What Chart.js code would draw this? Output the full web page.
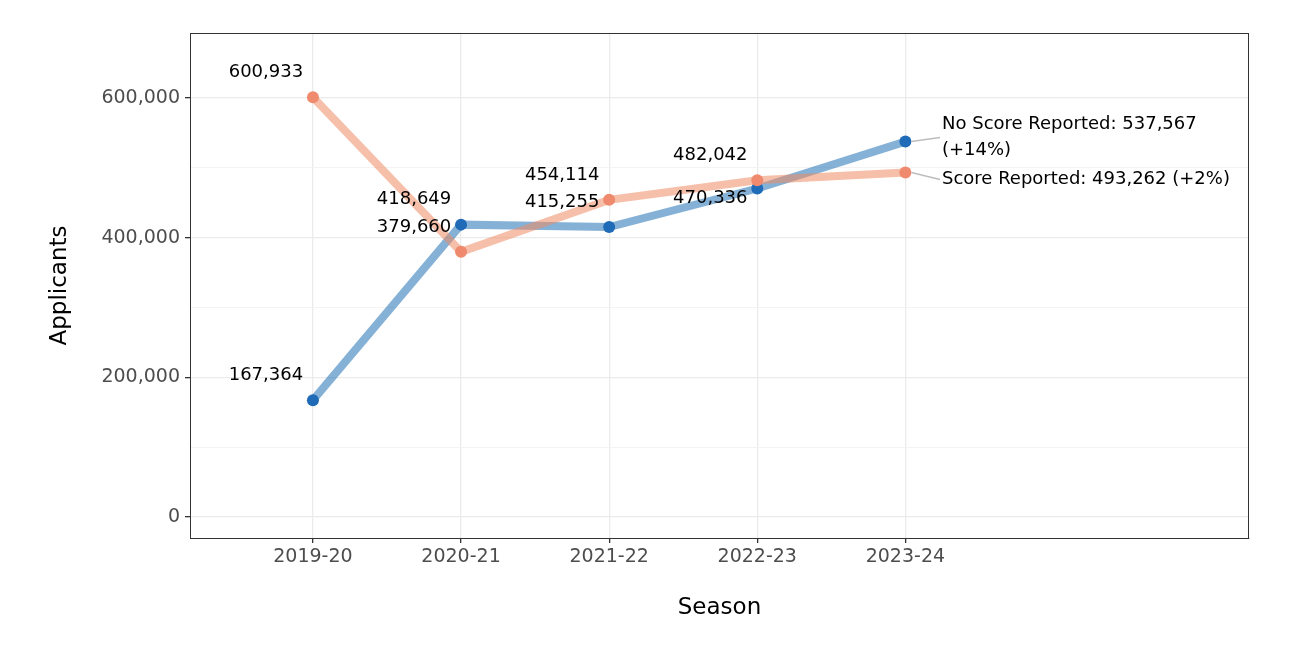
<!DOCTYPE html>
<html>
<head>
<meta charset="utf-8">
<script src="https://cdn.jsdelivr.net/npm/chart.js@4"></script>
<style>
  body { margin: 0; background: #fff; }
  canvas { display: block; }
</style>
</head>
<body>
<canvas id="grafico" width="1298" height="646"></canvas>
<script>
const seasons = ['2019-20', '2020-21', '2021-22', '2022-23', '2023-24'];
const noScore = [167364, 418649, 415255, 470336, 537567];
const scoreReported = [600933, 379660, 454114, 482042, 493262];
const yTicks = [0, 100000, 200000, 300000, 400000, 500000, 600000];
const endLabels = ['No Score Reported: 537,567\n(+14%)', 'Score Reported: 493,262 (+2%)'];

const fmt = v => v.toLocaleString('en-US');
const FONT = 'DejaVu Sans';

// value labels (drawn above-left of points, one below where they would collide)
const rotulos = {
  id: 'rotulos',
  afterDatasetsDraw(chart) {
    const c = chart.ctx;
    c.save();
    c.font = '18px "' + FONT + '"';
    c.fillStyle = '#000';
    c.textAlign = 'center';
    c.textBaseline = 'middle';
    chart.data.datasets.forEach((ds, di) => {
      const meta = chart.getDatasetMeta(di);
      meta.data.forEach((pt, i) => {
        if (i === ds.data.length - 1) return;
        const dy = ds.below && ds.below.includes(i) ? 10 : -25;
        c.fillText(fmt(ds.data[i].y), pt.x - 47, pt.y + dy);
      });
      // end label + connector
      const last = meta.data[meta.data.length - 1];
      const lines = ds.endLabel.split('\n');
      const lh = 26;
      const cy = last.y + ds.endShift;
      const tx = 942;
      c.strokeStyle = '#BDBDBD';
      c.lineWidth = 1.5;
      c.beginPath();
      c.moveTo(last.x + 6, last.y);
      c.lineTo(tx - 2, cy);
      c.stroke();
      c.textAlign = 'left';
      lines.forEach((ln, k) => {
        c.fillText(ln, tx, cy - (lines.length - 1) * lh / 2 + k * lh);
      });
      c.textAlign = 'center';
    });
    c.restore();
  }
};

const moldura = {
  id: 'moldura',
  afterDraw(chart) {
    const a = chart.chartArea;
    const c = chart.ctx;
    c.save();
    c.strokeStyle = '#333333';
    c.lineWidth = 1;
    c.strokeRect(a.left + 0.5, a.top + 0.5, a.right - a.left - 1, a.bottom - a.top);
    c.restore();
  }
};

new Chart(document.getElementById('grafico').getContext('2d'), {
  type: 'line',
  data: {
    datasets: [{
      label: 'Score Reported',
      data: scoreReported.map((v, i) => ({ x: i, y: v })),
      borderColor: 'rgba(239,138,98,0.55)',
      backgroundColor: '#EF8A6E',
      pointBackgroundColor: '#EF8A6E',
      pointBorderWidth: 0,
      borderWidth: 8,
      pointRadius: 6,
      tension: 0,
      endLabel: endLabels[1],
      endShift: 7
    }, {
      label: 'No Score Reported',
      data: noScore.map((v, i) => ({ x: i, y: v })),
      borderColor: 'rgba(33,113,181,0.55)',
      backgroundColor: '#1F6BB8',
      pointBackgroundColor: '#1F6BB8',
      pointBorderWidth: 0,
      borderWidth: 8,
      pointRadius: 6,
      tension: 0,
      below: [3],
      endLabel: endLabels[0],
      endShift: -4
    }]
  },
  options: {
    responsive: false,
    animation: false,
    devicePixelRatio: 1,
    layout: { padding: { top: 33, right: 49, left: 0, bottom: 0 } },
    plugins: {
      legend: { display: false },
      tooltip: { enabled: false }
    },
    scales: {
      x: {
        type: 'linear',
        min: -0.83,
        max: 6.32,
        afterBuildTicks: s => { s.ticks = seasons.map((_, i) => ({ value: i })); },
        afterFit: s => { s.height = 108; },
        ticks: {
          callback: v => seasons[v],
          color: '#4D4D4D',
          font: { family: FONT, size: 19 },
          padding: 3,
          maxRotation: 0
        },
        grid: { color: '#EBEBEB', lineWidth: 1.3, tickLength: 5, tickColor: '#333333', tickWidth: 1.3 },
        border: { display: true, color: '#333333', width: 1 },
        title: {
          display: true, text: 'Season', color: '#000',
          font: { family: FONT, size: 23 }, padding: { top: 0, bottom: 24 }
        }
      },
      y: {
        min: -30000,
        max: 693000,
        afterBuildTicks: s => { s.ticks = yTicks.map(v => ({ value: v })); },
        afterFit: s => { s.width = 190; },
        ticks: {
          callback: v => (v % 200000 === 0 ? fmt(v) : ''),
          color: '#4D4D4D',
          font: { family: FONT, size: 19 },
          padding: 5
        },
        grid: {
          color: c => (c.tick && c.tick.value % 200000 === 0 ? '#EBEBEB' : '#F2F2F2'),
          lineWidth: c => (c.tick && c.tick.value % 200000 === 0 ? 1.3 : 0.9),
          tickLength: 5,
          tickColor: c => (c.tick && c.tick.value % 200000 === 0 ? '#333333' : 'rgba(0,0,0,0)'),
          tickWidth: 1.3
        },
        border: { display: true, color: '#333333', width: 1 },
        title: {
          display: true, text: 'Applicants', color: '#000',
          font: { family: FONT, size: 23 }, padding: { top: 46, bottom: 0 }
        }
      }
    }
  },
  plugins: [rotulos, moldura]
});
</script>
</body>
</html>
